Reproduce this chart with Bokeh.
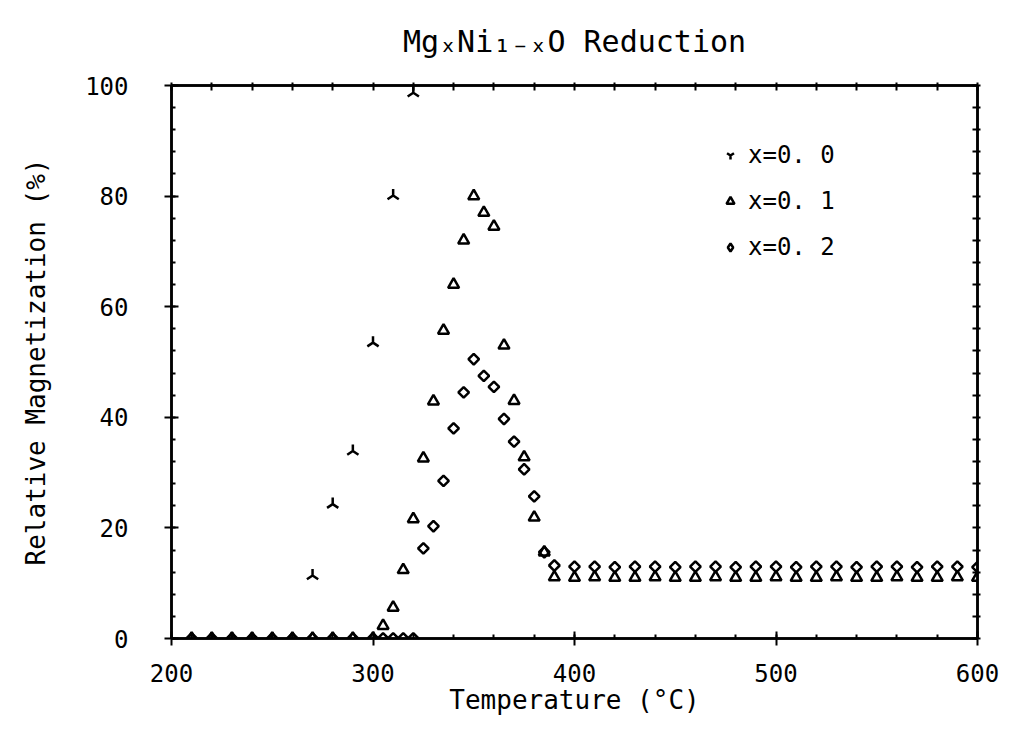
import math
from bokeh.plotting import figure
from bokeh.models import (Range1d, LinearAxis, Legend, LegendItem,
                          SingleIntervalTicker, FixedTicker)
from bokeh.embed import file_html
from bokeh.resources import INLINE

# ---------------- data ----------------
temp_x00 = [210, 220, 230, 240, 250, 260, 270, 280, 290, 300, 310, 320]
mag_x00 = [0, 0, 0, 0, 0, 0, 11.4, 24.3, 33.9, 53.5, 80.1, 98.7]

temp_x01 = [210, 220, 230, 240, 250, 260, 270, 280, 290, 300,
            305, 310, 315, 320, 325, 330, 335, 340, 345, 350,
            355, 360, 365, 370, 375, 380, 385, 390,
            400, 410, 420, 430, 440, 450, 460, 470, 480, 490, 500,
            510, 520, 530, 540, 550, 560, 570, 580, 590, 600]
mag_x01 = [0, 0, 0, 0, 0, 0, 0, 0, 0, 0,
           2.3, 5.6, 12.4, 21.6, 32.6, 42.9, 55.7, 64.0, 72.0, 80.0,
           77.0, 74.5, 53.0, 43.0, 32.8, 21.9, 15.6, 11.1,
           11.0, 11.1, 11.0, 11.0, 11.1, 11.0, 11.0, 11.1, 11.0, 11.0, 11.1,
           11.0, 11.0, 11.1, 11.0, 11.0, 11.1, 11.0, 11.0, 11.1, 11.0]

temp_x02 = [210, 220, 230, 240, 250, 260, 270, 280, 290, 300,
            305, 310, 315, 320, 325, 330, 335, 340, 345, 350,
            355, 360, 365, 370, 375, 380, 385, 390,
            400, 410, 420, 430, 440, 450, 460, 470, 480, 490, 500,
            510, 520, 530, 540, 550, 560, 570, 580, 590, 600]
mag_x02 = [0, 0, 0, 0, 0, 0, 0, 0, 0, 0,
           0, 0, 0, 0, 16.3, 20.3, 28.5, 38.0, 44.5, 50.5,
           47.5, 45.5, 39.7, 35.6, 30.6, 25.7, 15.6, 13.2,
           13.0, 13.0, 12.9, 13.0, 13.0, 12.9, 13.0, 13.0, 12.9, 13.0, 13.0,
           12.9, 13.0, 13.0, 12.9, 13.0, 13.0, 12.9, 13.0, 13.0, 12.9]

series_labels = ["x=0. 0", "x=0. 1", "x=0. 2"]
title_text = "Mg\u2093Ni\u2081\u208b\u2093O Reduction"
x_label = "Temperature (\u00b0C)"
y_label = "Relative Magnetization (%)"

X_START, X_END, X_MAJOR, X_MINOR = 200, 600, 100, 20
Y_START, Y_END, Y_MAJOR, Y_MINOR = 0, 100, 20, 4

FONT = "DejaVu Sans Mono"
FS = "24px"
FS_LABEL = "26px"

p = figure(frame_width=806, frame_height=553,
           x_range=Range1d(X_START, X_END), y_range=Range1d(Y_START, Y_END),
           output_backend="svg", toolbar_location=None,
           min_border_left=171, min_border_right=33,
           min_border_top=85, min_border_bottom=107,
           background_fill_color="white", border_fill_color="white")

p.xgrid.visible = False
p.ygrid.visible = False
p.outline_line_color = "black"
p.outline_line_width = 2.5

# title
p.title.text = title_text
p.title.text_font = FONT
p.title.text_font_size = "30px"
p.title.text_font_style = "normal"
p.title.text_color = "black"
p.title.align = "center"
p.title.vertical_align = "top"
p.title.standoff = 44


def style_axis(ax):
    ax.axis_line_width = 2.5
    ax.axis_line_color = "black"
    ax.major_tick_line_width = 2
    ax.minor_tick_line_width = 2
    ax.major_tick_line_color = "black"
    ax.minor_tick_line_color = "black"
    ax.major_tick_in = 7
    ax.major_tick_out = 7
    ax.minor_tick_in = 4
    ax.minor_tick_out = 0
    ax.major_label_text_font = FONT
    ax.major_label_text_font_size = FS
    ax.major_label_text_color = "black"
    ax.axis_label_text_font = FONT
    ax.axis_label_text_font_size = FS_LABEL
    ax.axis_label_text_font_style = "normal"
    ax.axis_label_text_color = "black"


p.xaxis.ticker = SingleIntervalTicker(interval=X_MAJOR, num_minor_ticks=X_MAJOR // X_MINOR)
p.yaxis.ticker = SingleIntervalTicker(interval=Y_MAJOR, num_minor_ticks=Y_MAJOR // Y_MINOR)
style_axis(p.xaxis[0])
style_axis(p.yaxis[0])
p.xaxis.major_label_standoff = 18
p.yaxis.major_label_standoff = 36
p.xaxis.axis_label = x_label
p.xaxis.axis_label_standoff = 0
p.yaxis.axis_label = y_label
p.yaxis.axis_label_standoff = 31

# frame ticks on the top and right sides (no labels)
top_ax = LinearAxis(ticker=FixedTicker(ticks=[], minor_ticks=list(range(X_START, X_END + 1, X_MINOR))))
right_ax = LinearAxis(ticker=FixedTicker(ticks=[], minor_ticks=list(range(Y_START, Y_END + 1, Y_MINOR))))
for ax in (top_ax, right_ax):
    style_axis(ax)
    ax.minor_tick_in = 5
    ax.minor_tick_out = 3
p.add_layout(top_ax, "above")
p.add_layout(right_ax, "right")

common = dict(line_color="black", line_width=2.5, fill_color=None)
r0 = p.scatter(temp_x00, mag_x00, marker="y", size=13, angle=math.pi, **common)
r1 = p.scatter(temp_x01, mag_x01, marker="triangle", size=11, **common)
r2 = p.scatter(temp_x02, mag_x02, marker="square", size=7.5, angle=math.pi / 4, **common)
# hidden diamond renderer used only as the legend swatch (legend glyphs ignore angle)
r2_key = p.scatter(temp_x02, mag_x02, marker="diamond", size=11, visible=False, **common)

legend = Legend(items=[LegendItem(label=series_labels[0], renderers=[r0]),
                       LegendItem(label=series_labels[1], renderers=[r1]),
                       LegendItem(label=series_labels[2], renderers=[r2_key])],
                location=(549, 377),
                label_text_font=FONT, label_text_font_size=FS,
                label_text_color="black",
                glyph_width=20, glyph_height=20, label_standoff=8,
                spacing=18, padding=0, margin=0,
                inactive_fill_alpha=0,
                border_line_color=None, background_fill_alpha=0)
p.add_layout(legend)

open("out.html", "w").write(file_html(p, INLINE))
